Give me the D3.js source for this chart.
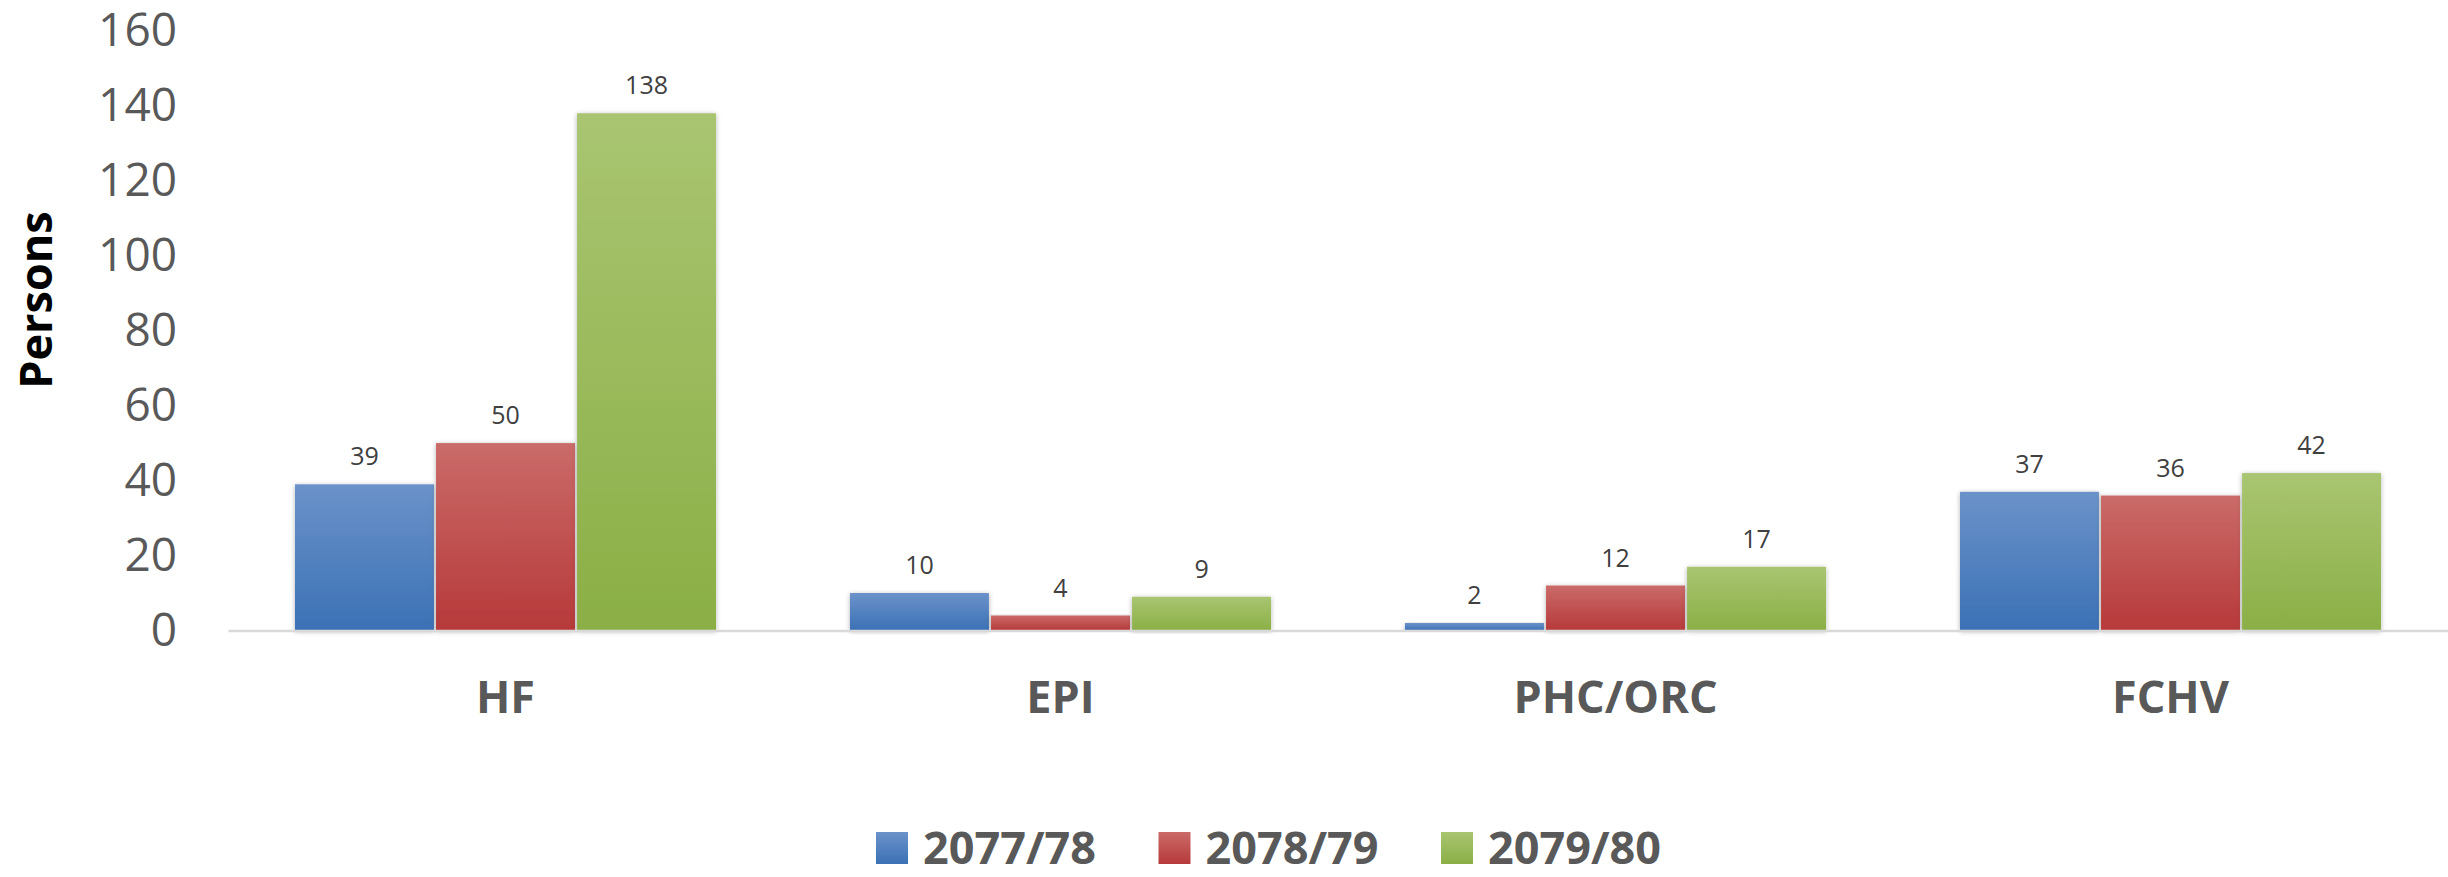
<!DOCTYPE html>
<html>
<head>
<meta charset="utf-8">
<script src="https://cdnjs.cloudflare.com/ajax/libs/d3/7.8.5/d3.min.js"></script>
<style>
  body { margin: 0; background: #fff; }
  svg { display: block; font-family: "Open Sans", "Noto Sans", sans-serif; }
</style>
</head>
<body>
<div id="chart"></div>
<script>

// data
const categories = ["HF", "EPI", "PHC/ORC", "FCHV"]
const seriesNames = ["2077/78", "2078/79", "2079/80"]
const values2077 = [39, 10, 2, 37]
const values2078 = [50, 4, 12, 36]
const values2079 = [138, 9, 17, 42]
const yTicks = [0, 20, 40, 60, 80, 100, 120, 140, 160]

const seriesValues = [values2077, values2078, values2079]

const config = {
    top: 30.8,
    bottom: 630.5,
    left: 228,
    right: 2448,
}

const width = 2448
const height = 877

const colors = [
    { top: "#6b92c9", bottom: "#3b71b5" },
    { top: "#ca6b69", bottom: "#b7393a" },
    { top: "#a9c571", bottom: "#8baf46" },
]

const svg = d3.select("#chart").append("svg").attr("width", width).attr("height", height)

const defs = svg.append("defs")
colors.forEach(function (c, i) {
    const g = defs.append("linearGradient").attr("id", `grad${i}`)
        .attr("x1", 0).attr("x2", 0).attr("y1", 0).attr("y2", 1)
    g.append("stop").attr("offset", "0%").attr("stop-color", c.top)
    g.append("stop").attr("offset", "100%").attr("stop-color", c.bottom)
})
defs.append("filter").attr("id", "shadow").attr("x", "-10%").attr("y", "-10%").attr("width", "120%").attr("height", "120%")
    .append("feDropShadow").attr("dx", 0).attr("dy", 1).attr("stdDeviation", 2.5)
    .attr("flood-color", "#000").attr("flood-opacity", 0.3)

const x0 = d3.scaleBand().domain(categories).range([config.left, config.right]).padding(0)
const x1 = d3.scaleBand().domain(seriesNames).range([0, x0.bandwidth()])
    .paddingInner(0.015).paddingOuter(0.475)
const y = d3.scaleLinear().domain([0, 160]).range([config.bottom, config.top])

// y axis, labels only
const axisLeft = d3.axisLeft(y).tickValues(yTicks).tickSize(0).tickPadding(51)
svg.append("g")
    .attr("transform", `translate(${config.left},0)`)
    .call(axisLeft)
    .call(g => g.select(".domain").remove())
    .selectAll("text")
    .attr("fill", "#595959")
    .style("font-size", "46px")
    .style("font-family", "'Open Sans', sans-serif")

// bars
seriesNames.forEach(function (name, si) {
    const rows = categories.map((c, ci) => ({ cat: c, value: seriesValues[si][ci] }))

    svg.append("g")
        .selectAll("rect")
        .data(rows)
        .enter()
        .append("rect")
        .attr("x", d => x0(d.cat) + x1(name))
        .attr("y", d => y(d.value))
        .attr("width", x1.bandwidth())
        .attr("height", d => y(0) - y(d.value))
        .attr("fill", `url(#grad${si})`)
        .attr("filter", "url(#shadow)")

    svg.append("g")
        .selectAll("text")
        .data(rows)
        .enter()
        .append("text")
        .attr("x", d => x0(d.cat) + x1(name) + x1.bandwidth() / 2)
        .attr("y", d => y(d.value) - 19)
        .attr("text-anchor", "middle")
        .attr("fill", "#404040")
        .style("font-size", "25px")
        .text(d => d.value)
})

// x axis baseline + category labels
const axisBottom = d3.axisBottom(x0).tickSize(0).tickPadding(51)
svg.append("g")
    .attr("transform", `translate(0,${config.bottom})`)
    .call(axisBottom)
    .call(g => g.select(".domain").attr("stroke", "#d9d9d9").attr("stroke-width", 2.5))
    .selectAll("text")
    .attr("fill", "#595959")
    .style("font-size", "45px")
    .style("font-weight", "bold")
    .style("font-family", "'Open Sans', sans-serif")

// y title
svg.append("text")
    .attr("transform", "translate(52,300) rotate(-90)")
    .attr("text-anchor", "middle")
    .attr("fill", "#000")
    .style("font-size", "45px")
    .style("font-weight", "bold")
    .text("Persons")

// legend
const legendX = d3.scalePoint().domain(seriesNames).range([876, 1441])
const legend = svg.append("g").selectAll("g")
    .data(seriesNames)
    .enter()
    .append("g")
    .attr("transform", d => `translate(${legendX(d)},832)`)

legend.append("rect")
    .attr("width", 32)
    .attr("height", 32)
    .attr("fill", (d, i) => `url(#grad${i})`)

legend.append("text")
    .attr("x", 47)
    .attr("y", 32)
    .attr("fill", "#595959")
    .style("font-size", "45px")
    .style("font-weight", "bold")
    .text(d => d)

</script>
</body>
</html>
